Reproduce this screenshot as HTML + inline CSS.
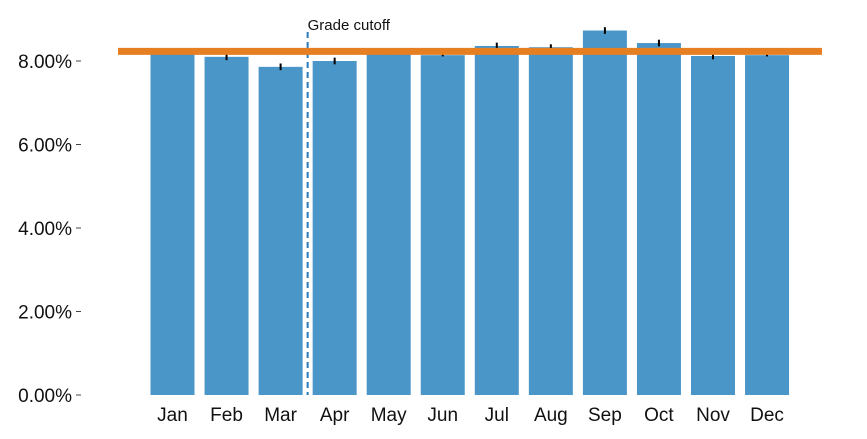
<!DOCTYPE html>
<html><head><meta charset="utf-8"><style>
body{margin:0;background:#fff;}
svg{font-family:"Liberation Sans",sans-serif;}
</style></head><body>
<svg id="c" width="867" height="434"></svg>
<script>
const months=["Jan","Feb","Mar","Apr","May","Jun","Jul","Aug","Sep","Oct","Nov","Dec"];
const values=[8.2,8.1,7.86,8.0,8.2,8.14,8.36,8.33,8.73,8.43,8.12,8.14];
const errors=[0.05,0.08,0.08,0.08,0.05,0.03,0.08,0.07,0.08,0.08,0.08,0.03];
const yTicks=[0,2,4,6,8];
const cutoff=8.23;
const markerIndex=2.5;
const svg=document.getElementById('c');
const NS='http://www.w3.org/2000/svg';
const y=v=>395-v*41.75;
const x=i=>172.5+i*54.05;
function mk(t,a){const e=document.createElementNS(NS,t);for(const k in a)e.setAttribute(k,a[k]);svg.appendChild(e);return e;}
yTicks.forEach(t=>{
 const l=mk('line',{x1:76,x2:81,y1:y(t),y2:y(t),stroke:'#444','stroke-width':1});
 
 
 const tx=mk('text',{x:72,y:y(t)+7,'text-anchor':'end','font-size':19,fill:'#111'});
 tx.textContent=t.toFixed(2)+'%';
 
 
});
months.forEach((m,i)=>{
 const b=mk('rect',{x:x(i)-22,y:y(values[i]),width:44,height:395-y(values[i]),fill:'#4a96c8'});
 
 
 const e=mk('line',{x1:x(i),x2:x(i),y1:y(values[i]+errors[i]),y2:y(values[i]-errors[i]),stroke:'#000','stroke-width':2});
 
 
 const tx=mk('text',{x:x(i),y:421,'text-anchor':'middle','font-size':19,fill:'#111'});
 tx.textContent=m;
 
 
});
const dx=x(markerIndex);
const d=mk('line',{x1:dx,x2:dx,y1:32,y2:395,stroke:'#2a7ab8','stroke-width':2,'stroke-dasharray':'6,4'});


const lt=mk('text',{x:dx,y:30,'font-size':15,fill:'#111'});
lt.textContent='Grade cutoff';


const h=mk('line',{x1:118,x2:822,y1:y(cutoff),y2:y(cutoff),stroke:'#e57f22','stroke-width':7});


</script>
</body></html>
